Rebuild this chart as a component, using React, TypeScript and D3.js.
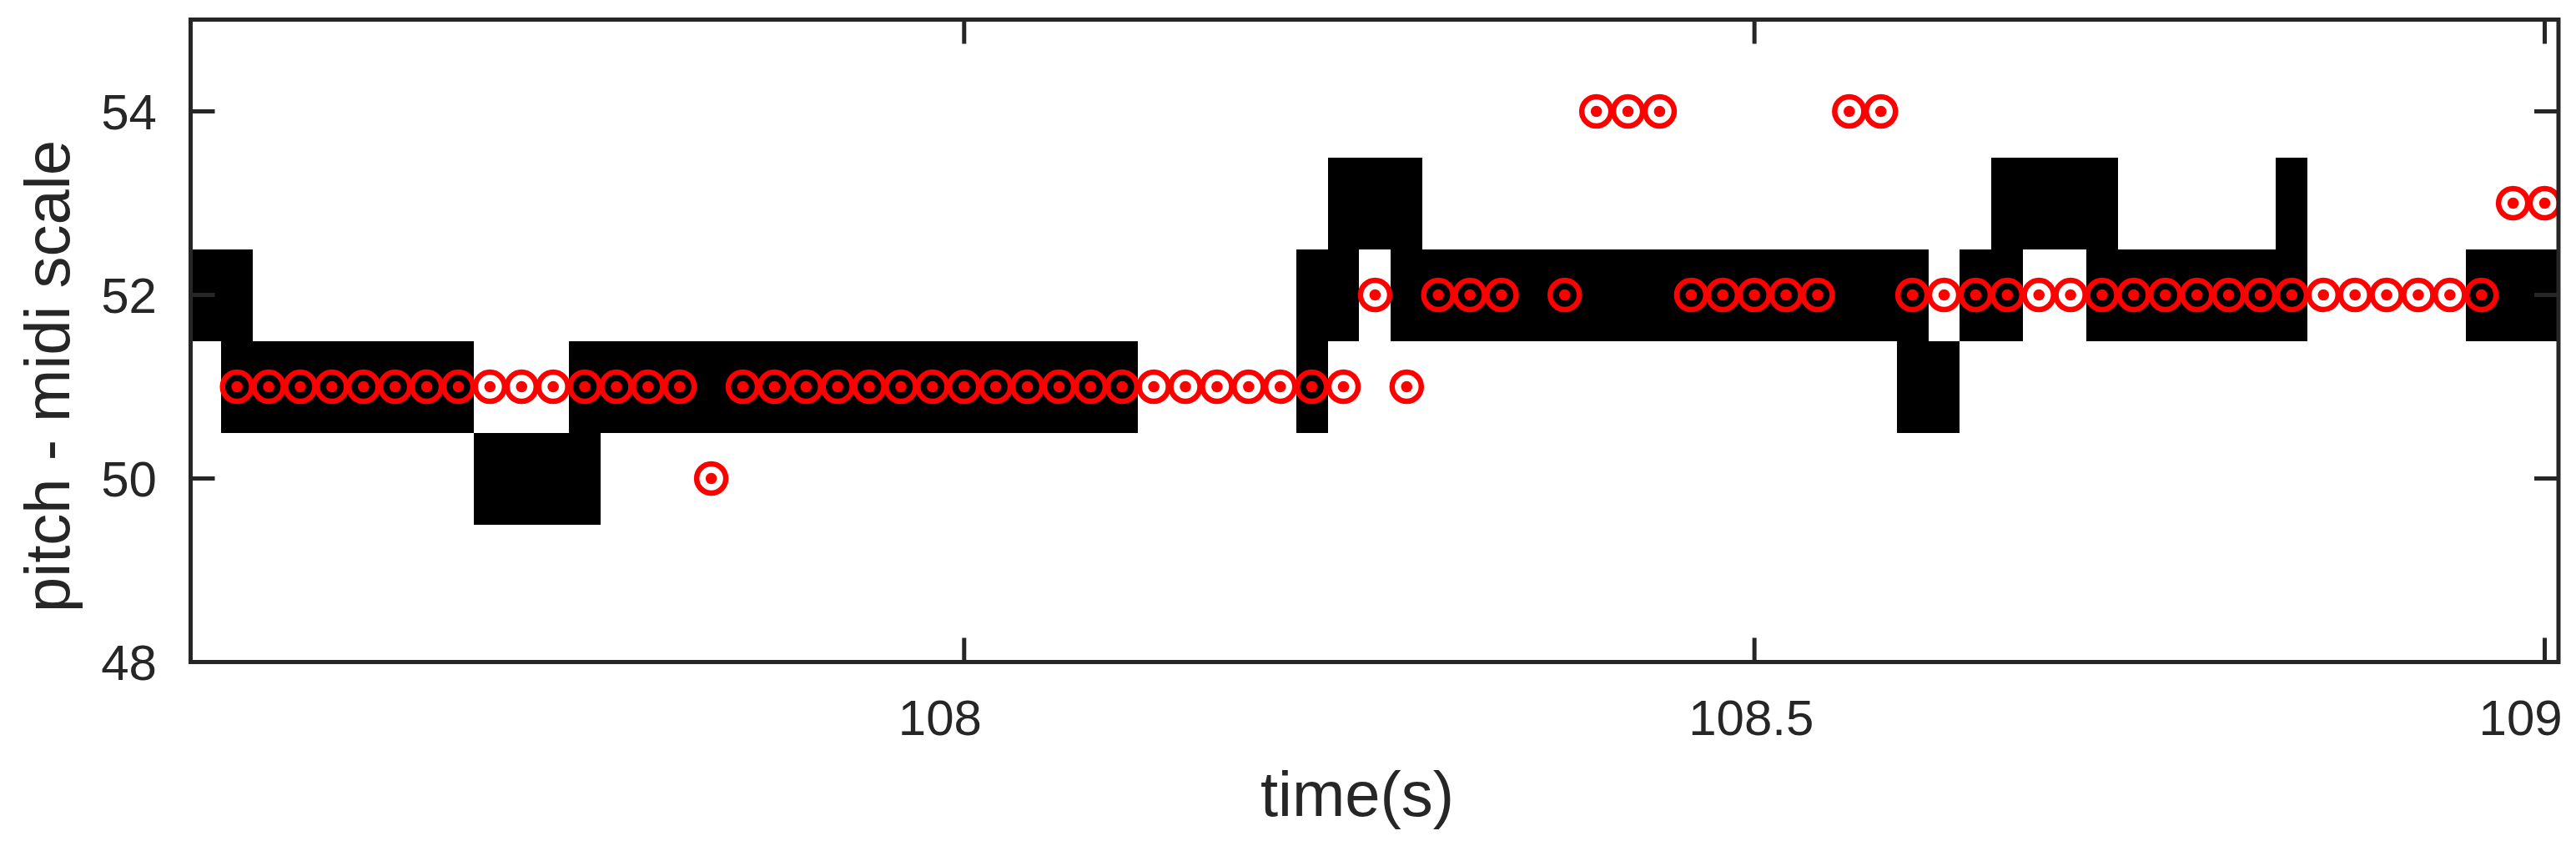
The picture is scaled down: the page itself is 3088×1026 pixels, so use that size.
import React from "react";
import * as d3 from "d3";

// frame-wise estimated pitch (red markers)
const frameTimes = [
    107.54, 107.56, 107.58, 107.60, 107.62, 107.64, 107.66, 107.68, 107.70, 107.72,
    107.74, 107.76, 107.78, 107.80, 107.82, 107.84, 107.86, 107.88, 107.90, 107.92,
    107.94, 107.96, 107.98, 108.00, 108.02, 108.04, 108.06, 108.08, 108.10, 108.12,
    108.14, 108.16, 108.18, 108.20, 108.22, 108.24, 108.26, 108.28, 108.30, 108.32,
    108.34, 108.36, 108.38, 108.40, 108.42, 108.44, 108.46, 108.48, 108.50, 108.52,
    108.54, 108.56, 108.58, 108.60, 108.62, 108.64, 108.66, 108.68, 108.70, 108.72,
    108.74, 108.76, 108.78, 108.80, 108.82, 108.84, 108.86, 108.88, 108.90, 108.92,
    108.94, 108.96, 108.98, 109.00,
]
const framePitch: (number | null)[] = [
    51, 51, 51, 51, 51, 51, 51, 51, 51, 51,
    51, 51, 51, 51, 51, 50, 51, 51, 51, 51,
    51, 51, 51, 51, 51, 51, 51, 51, 51, 51,
    51, 51, 51, 51, 51, 51, 52, 51, 52, 52,
    52, null, 52, 54, 54, 54, 52, 52, 52, 52,
    52, 54, 54, 52, 52, 52, 52, 52, 52, 52,
    52, 52, 52, 52, 52, 52, 52, 52, 52, 52,
    52, 52, 53, 53,
]

// reference notes (black piano-roll cells)
const noteOnsets = [107.49, 107.53, 107.69, 107.75, 108.21, 108.21, 108.23, 108.27, 108.59, 108.63, 108.65, 108.71, 108.83, 108.95]
const noteOffsets = [107.55, 107.69, 107.77, 108.11, 108.23, 108.25, 108.29, 108.61, 108.63, 108.67, 108.73, 108.85, 108.85, 109.03]
const notePitches = [52, 51, 50, 51, 51, 52, 53, 52, 51, 52, 53, 52, 53, 52]

const xDomain = [107.5106, 109.0087]
const yDomain = [48, 55]
const xTicks = [108, 108.5, 109]
const xTickLabels = ["108", "108.5", "109"]
const yTicks = [48, 50, 52, 54]

const W = 3088
const H = 1026
const left = 228.5, right = 3067, top = 23.5, bottom = 793.5
const axisColor = "#262626"
const font = "'Liberation Sans', Arial, Helvetica, sans-serif"

const App = () => {
    const x = d3.scaleLinear().domain(xDomain).range([left, right])
    const y = d3.scaleLinear().domain(yDomain).range([bottom, top])
    const tickLen = 29

    const notes = notePitches.map((p, i) => ({p, t0: noteOnsets[i], t1: noteOffsets[i]}))
    const frames = frameTimes
        .map((t, i) => ({t, p: framePitch[i]}))
        .filter(d => d.p !== null) as {t: number, p: number}[]

    return (
        <svg width={W} height={H} viewBox={`0 0 ${W} ${H}`}
             style={{position: "absolute", left: 0, top: 0, background: "#fff"}}>
            <defs>
                <clipPath id="plotArea">
                    <rect x={left} y={top} width={right - left} height={bottom - top}/>
                </clipPath>
            </defs>
            <rect x={0} y={0} width={W} height={H} fill="#fff"/>

            <g clipPath="url(#plotArea)">
                {notes.map((n, i) => (
                    <rect key={"n" + i}
                          x={x(n.t0)} width={x(n.t1) - x(n.t0)}
                          y={y(n.p + 0.5)} height={y(n.p - 0.5) - y(n.p + 0.5)}
                          fill="#000" shapeRendering="crispEdges"/>
                ))}
                {frames.map((d, i) => (
                    <g key={"f" + i}>
                        <circle cx={x(d.t)} cy={y(d.p)} r={17.5} fill="none" stroke="#ff0000" strokeWidth={6.5}/>
                        <circle cx={x(d.t)} cy={y(d.p)} r={6.8} fill="#ff0000"/>
                    </g>
                ))}
            </g>

            {/* box + ticks */}
            <g stroke={axisColor} strokeWidth={5} fill="none">
                <rect x={left} y={top} width={right - left} height={bottom - top}/>
                {xTicks.map(t => (
                    <g key={"xt" + t}>
                        <line x1={x(t)} x2={x(t)} y1={bottom} y2={bottom - tickLen}/>
                        <line x1={x(t)} x2={x(t)} y1={top} y2={top + tickLen}/>
                    </g>
                ))}
                {yTicks.map(t => (
                    <g key={"yt" + t}>
                        <line x1={left} x2={left + tickLen} y1={y(t)} y2={y(t)}/>
                        <line x1={right} x2={right - tickLen} y1={y(t)} y2={y(t)}/>
                    </g>
                ))}
            </g>

            <g fill={axisColor} fontFamily={font} fontSize={60}>
                {xTicks.map((t, i) => (
                    <text key={"xl" + t} x={x(t) - 79} y={881} textAnchor="start">{xTickLabels[i]}</text>
                ))}
                {yTicks.map(t => (
                    <text key={"yl" + t} x={188} y={y(t) + 21.5} textAnchor="end">{String(t)}</text>
                ))}
            </g>

            <text x={1627} y={978} textAnchor="middle" fill={axisColor}
                  fontFamily={font} fontSize={76}>time(s)</text>
            <text transform={`translate(83,451) rotate(-90)`} textAnchor="middle" fill={axisColor}
                  fontFamily={font} fontSize={76}>pitch - midi scale</text>
        </svg>
    );
};

export default App;
